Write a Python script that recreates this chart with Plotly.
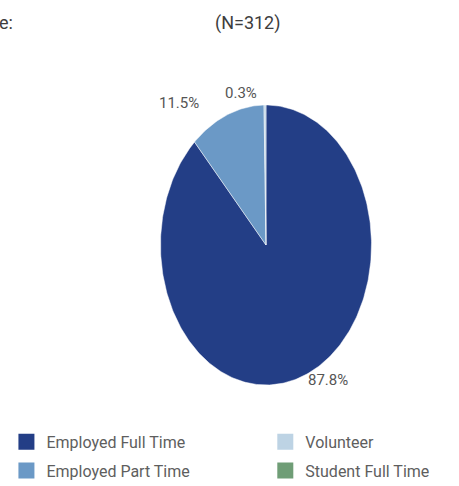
import numpy as np
import plotly.graph_objects as go

# Employment status breakdown, percent of respondents
categories = ["Employed Full Time", "Employed Part Time", "Volunteer", "Student Full Time"]
values = [87.8, 11.5, 0.3, 0.0]
colors = ["#233e86", "#6b99c6", "#bdd3e4", "#6f9d76"]
legend_left = ["Employed Full Time", "Employed Part Time"]
legend_right = ["Volunteer", "Student Full Time"]

FONT = "Roboto, Arial, sans-serif"
W, H = 459, 486

# Pie drawn on a unit ellipse centred at (0, 0); axis ranges give it its oval footprint
rx_px, ry_px = 105.5, 140.0
cx_px, cy_px = 266.0, 245.0
x_range = [-cx_px / rx_px, (W - cx_px) / rx_px]
y_range = [-(H - cy_px) / ry_px, cy_px / ry_px]

# outside-label placement: (radius factor, horizontal nudge in px) per slice
label_place = {
    "Employed Full Time": (1.035, 0),
    "Employed Part Time": (1.09, -22),
    "Volunteer": (1.085, -6),
}

fig = go.Figure()

total = sum(values)
start = 0.0  # clockwise from 12 o'clock, in degrees
for cat, val, col in zip(categories, values, colors):
    sweep = 360.0 * val / total
    if sweep > 0:
        n = max(int(sweep / 1.0), 2)
        ang = np.radians(np.linspace(start, start + sweep, n + 1))
        xs = np.concatenate([[0.0], np.sin(ang), [0.0]])
        ys = np.concatenate([[0.0], np.cos(ang), [0.0]])
        fig.add_trace(go.Scatter(
            x=xs, y=ys, mode="lines", fill="toself", fillcolor=col,
            line=dict(color="rgba(255,255,255,0.8)", width=0.6),
            hoverinfo="text", text=f"{cat}: {val:.1f}%", showlegend=False,
        ))
        mid = np.radians(start + sweep / 2)
        sx, cy = np.sin(mid), np.cos(mid)
        r, nudge = label_place.get(cat, (1.08, 0))
        fig.add_annotation(
            x=r * sx, y=r * cy, text=f"{val:.1f}%", showarrow=False,
            xanchor="left" if sx >= 0 else "right", yanchor="middle",
            xshift=nudge,
            font=dict(family=FONT, size=15, color="#555555"),
        )
    start += sweep

# Legend entries, two columns
for names, lg in ((legend_left, "legend"), (legend_right, "legend2")):
    for cat in names:
        col = colors[categories.index(cat)]
        fig.add_trace(go.Scatter(
            x=[None], y=[None], mode="markers", name=cat, legend=lg,
            legendgroup=cat,
            marker=dict(symbol="square", size=18, color=col),
        ))

fig.add_annotation(
    xref="paper", yref="paper", x=0.54, y=1.0, yshift=-10, text="(N=312)",
    showarrow=False, xanchor="center", yanchor="top",
    font=dict(family=FONT, size=18, color="#3d3d3d"),
)
fig.add_annotation(
    xref="paper", yref="paper", x=0.0, y=1.0, yshift=-10, xshift=-3, text="e:",
    showarrow=False, xanchor="left", yanchor="top",
    font=dict(family=FONT, size=18, color="#3d3d3d"),
)

legend_style = dict(
    orientation="v", y=0.126, xanchor="left", yanchor="top",
    font=dict(family=FONT, size=16, color="#5e5e5e"),
    bgcolor="rgba(0,0,0,0)", tracegroupgap=5,
)

fig.update_layout(
    width=W, height=H,
    margin=dict(l=0, r=0, t=0, b=0, autoexpand=False),
    paper_bgcolor="white", plot_bgcolor="white",
    xaxis=dict(range=x_range, visible=False, fixedrange=True),
    yaxis=dict(range=y_range, visible=False, fixedrange=True),
    showlegend=True,
    legend=dict(x=0.014, **legend_style),
    legend2=dict(x=0.578, **legend_style),
)

fig.write_html("out.html")
